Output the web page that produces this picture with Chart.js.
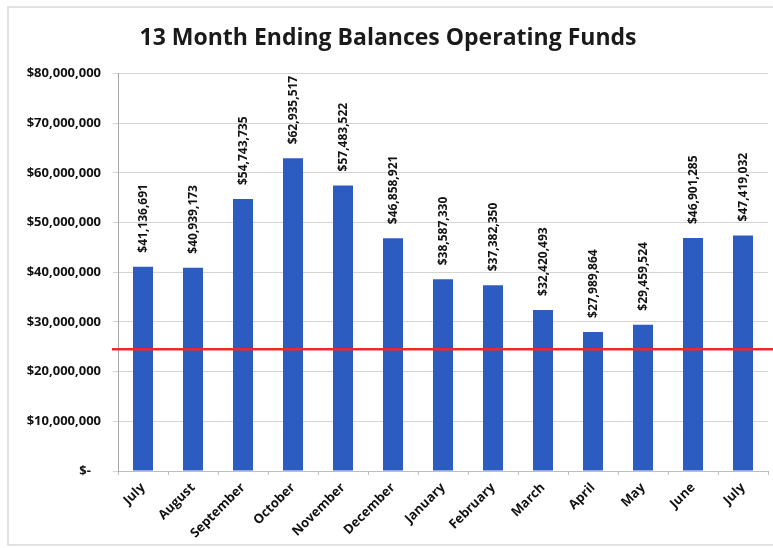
<!DOCTYPE html>
<html>
<head>
<meta charset="utf-8">
<script src="https://cdn.jsdelivr.net/npm/chart.js@4.4.0/dist/chart.umd.min.js"></script>
<style>
  html, body { margin: 0; padding: 0; background: #fff; }
  #wrap { width: 773px; height: 548px; }
</style>
</head>
<body>
<div id="wrap"><canvas id="balanceChart" width="773" height="548"></canvas></div>
<script>
// data
const months = ["July", "August", "September", "October", "November", "December",
  "January", "February", "March", "April", "May", "June", "July"];
const balances = [41136691, 40939173, 54743735, 62935517, 57483522, 46858921,
  38587330, 37382350, 32420493, 27989864, 29459524, 46901285, 47419032];
const minimumLine = 24500000;
const yTicks = [0, 10000000, 20000000, 30000000, 40000000, 50000000, 60000000, 70000000, 80000000];

const money = (v) => v === 0 ? "$-   " : "$" + v.toLocaleString("en-US");

// frame round the chart
const framePlugin = {
  id: "frame",
  beforeDraw(chart) {
    const ctx = chart.ctx;
    ctx.save();
    ctx.fillStyle = "#fff";
    ctx.fillRect(0, 0, chart.width, chart.height);
    ctx.strokeStyle = "#d9d9d9";
    ctx.lineWidth = 1.5;
    ctx.strokeRect(8, 7, chart.width - 6, chart.height - 10);
    ctx.restore();
  }
};

// red reference line
const refLinePlugin = {
  id: "refLine",
  afterDatasetsDraw(chart) {
    const { ctx, chartArea, scales } = chart;
    const y = scales.y.getPixelForValue(minimumLine);
    ctx.save();
    ctx.strokeStyle = "#f0282a";
    ctx.lineWidth = 2.5;
    ctx.beginPath();
    ctx.moveTo(chartArea.left - 6, y);
    ctx.lineTo(chart.width, y);
    ctx.stroke();
    ctx.restore();
  }
};

// vertical value labels above bars
const valueLabels = {
  id: "valueLabels",
  afterDatasetsDraw(chart) {
    const ctx = chart.ctx;
    const meta = chart.getDatasetMeta(0);
    ctx.save();
    ctx.font = "bold 12px 'Open Sans'";
    ctx.fillStyle = "#111";
    ctx.textAlign = "left";
    ctx.textBaseline = "middle";
    meta.data.forEach((bar, i) => {
      ctx.save();
      ctx.translate(bar.x + 1, bar.y - 14);
      ctx.rotate(-Math.PI / 2);
      ctx.fillText(money(balances[i]), 0, 0);
      ctx.restore();
    });
    ctx.restore();
  }
};

new Chart(document.getElementById("balanceChart"), {
  type: "bar",
  data: {
    labels: months,
    datasets: [{
      data: balances,
      backgroundColor: "#2d5cc0",
      borderWidth: 0,
      categoryPercentage: 1,
      barPercentage: 0.4
    }]
  },
  options: {
    responsive: false,
    animation: false,
    layout: { padding: { left: 8, right: 5, top: 0, bottom: 0 } },
    plugins: {
      legend: { display: false },
      tooltip: { enabled: false },
      title: {
        display: true,
        text: "13 Month Ending Balances Operating Funds",
        color: "#1a1a1a",
        font: { family: "'Open Sans'", size: 23, weight: "bold" },
        padding: { top: 25, bottom: 21 }
      }
    },
    scales: {
      x: {
        grid: { drawOnChartArea: false, tickLength: 4, color: "#bfbfbf" },
        border: { color: "#bfbfbf" },
        ticks: {
          color: "#111",
          font: { family: "'Open Sans'", size: 13, weight: "bold" },
          maxRotation: 45,
          minRotation: 45,
          padding: 5
        },
        afterFit: (s) => { s.height = 77; }
      },
      y: {
        min: 0,
        max: 80000000,
        afterBuildTicks: (s) => { s.ticks = yTicks.map((v) => ({ value: v })); },
        grid: { color: "#d4d4d4", tickLength: 5 },
        border: { color: "#a6a6a6" },
        ticks: {
          color: "#111",
          font: { family: "'Open Sans'", size: 13, weight: "bold" },
          padding: 12,
          callback: (v) => money(v)
        },
        afterFit: (s) => { s.width = 110; }
      }
    }
  },
  plugins: [framePlugin, refLinePlugin, valueLabels]
});
</script>
</body>
</html>
